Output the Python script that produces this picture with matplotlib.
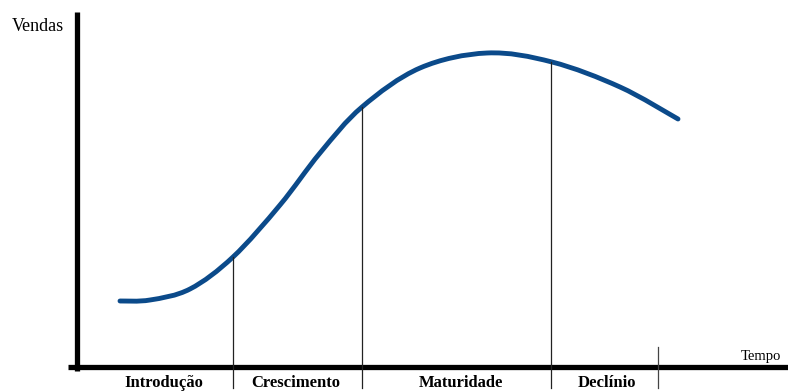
import matplotlib.pyplot as plt
from matplotlib.path import Path
from matplotlib.patches import PathPatch

# curva do ciclo de vida (tempo x vendas)
tempo = [120, 150, 190, 233, 280, 320, 362, 420, 487, 552, 620, 678]
vendas = [91, 92, 103, 135, 187, 239, 285, 324, 339, 330, 305, 273]

# limites entre as fases
limites = [233, 362, 551]
limites_topo = [135, 285, 330]
fases = ['Introdução', 'Crescimento', 'Maturidade', 'Declínio']
fases_x = [164, 296, 461, 607]

AZUL = '#0b4a8a'
SERIF = ['Liberation Serif', 'DejaVu Serif']


def curva_suave(xs, ys):
    # catmull-rom -> bezier, so para suavizar o traco
    pts = list(zip(xs, ys))
    verts = [pts[0]]
    codes = [Path.MOVETO]
    for i in range(len(pts) - 1):
        p0 = pts[max(i - 1, 0)]
        p1 = pts[i]
        p2 = pts[i + 1]
        p3 = pts[min(i + 2, len(pts) - 1)]
        c1 = (p1[0] + (p2[0] - p0[0]) / 6, p1[1] + (p2[1] - p0[1]) / 6)
        c2 = (p2[0] - (p3[0] - p1[0]) / 6, p2[1] - (p3[1] - p1[1]) / 6)
        verts += [c1, c2, p2]
        codes += [Path.CURVE4] * 3
    return Path(verts, codes)


fig = plt.figure(figsize=(7.88, 3.92), dpi=100)
ax = fig.add_axes([0, 0, 1, 1])
ax.set_xlim(0, 788)
ax.set_ylim(0, 392)
ax.axis('off')

# eixos desenhados a mao
ax.plot([77, 77], [21, 380], color='black', lw=3.8, solid_capstyle='butt')
ax.plot([68, 788], [25, 25], color='black', lw=3.8, solid_capstyle='butt')

# linhas verticais das fases
for x, topo in zip(limites, limites_topo):
    ax.plot([x, x], [4, topo], color='#222222', lw=0.9)
ax.plot([658, 658], [4, 45], color='#444444', lw=0.9)

ax.add_patch(PathPatch(curva_suave(tempo, vendas), facecolor='none',
                       edgecolor=AZUL, lw=3.5, capstyle='round'))

ax.text(12, 361, 'Vendas', family=SERIF, fontsize=13, va='baseline')
ax.text(741, 32, 'Tempo', family=SERIF, fontsize=10.5, va='baseline')

for nome, x in zip(fases, fases_x):
    ax.text(x, 5, nome, family=SERIF, fontsize=12, fontweight='bold',
            ha='center', va='baseline')

fig.savefig('out.png', dpi=100)
